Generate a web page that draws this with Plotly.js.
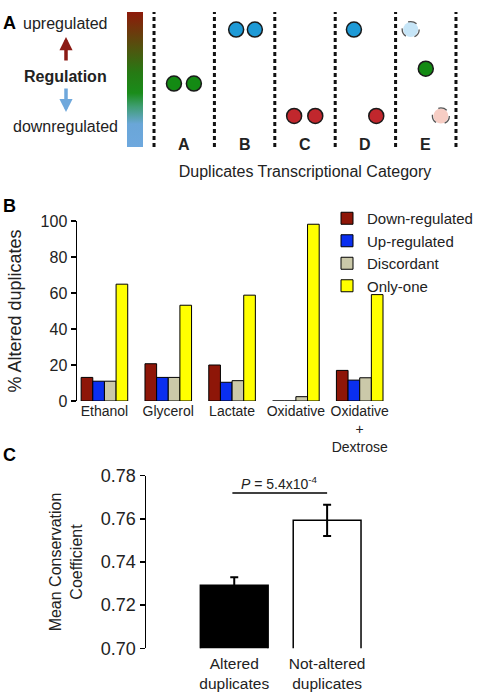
<!DOCTYPE html>
<html>
<head>
<meta charset="utf-8">
<script src="https://cdn.plot.ly/plotly-3.0.1.min.js"></script>
<style>html,body{margin:0;padding:0;background:#fff}#chart{width:478px;height:692px}</style>
</head>
<body>
<div id="chart"></div>
<script>
// ---------- Panel A data (schematic) ----------
const categories = ['A', 'B', 'C', 'D', 'E'];
const dupCategory = ['A', 'A', 'B', 'B', 'C', 'C', 'D', 'D', 'E', 'E', 'E'];
const dupSlot = [0.33, 0.66, 0.36, 0.67, 0.32, 0.67, 0.31, 0.68, 0.25, 0.50, 0.75];
const regulationLevel = [0.47, 0.47, 0.87, 0.87, 0.23, 0.23, 0.87, 0.23, 0.87, 0.58, 0.23];
const dupState = ['neutral', 'neutral', 'up', 'up', 'down', 'down', 'up', 'down', 'upFaded', 'neutral', 'downFaded'];

// ---------- Panel B data ----------
const conditions = ['Ethanol', 'Glycerol', 'Lactate', 'Oxidative', 'Oxidative<br>+<br>Dextrose'];
const seriesNames = ['Down-regulated', 'Up-regulated', 'Discordant', 'Only-one'];
const downRegulated = [13.1, 20.7, 20.0, 0, 17.0];
const upRegulated = [11.0, 13.1, 10.4, 0, 11.6];
const discordant = [11.0, 13.1, 11.3, 2.4, 12.9];
const onlyOne = [64.9, 53.2, 58.8, 98.2, 59.1];

// ---------- Panel C data ----------
const groups = ['Altered<br>duplicates', 'Not-altered<br>duplicates'];
const meanConservation = [0.7292, 0.7593];
const conservationErr = [0.0037, 0.0072];
const yTicksC = [0.70, 0.72, 0.74, 0.76, 0.78];
const pValueLabel = '<i>P</i> = 5.4x10<sup>-4</sup>';

// ---------- styles ----------
const W = 478, H = 692;
const px = v => v / W;
const py = v => 1 - v / H;
const FONT = 'Liberation Sans, Arial, sans-serif';
const stateColor = {neutral: '#138a13', up: '#1e9ad6', down: '#c1272d', upFaded: '#c6e5f7', downFaded: '#f6cdc4'};
const stateLine = {neutral: '#1a1a1a', up: '#1a1a1a', down: '#1a1a1a', upFaded: 'rgba(0,0,0,0)', downFaded: 'rgba(0,0,0,0)'};
const seriesColors = ['#8e1608', '#0a2ff0', '#cbc9a9', '#ffff00'];

const catIndex = c => categories.indexOf(c);
const dupX = dupCategory.map((c, i) => catIndex(c) + dupSlot[i]);

const traces = [];

// colour bar (gradient)
traces.push({
  type: 'scatter', x: [null], y: [null], xaxis: 'x', yaxis: 'y', showlegend: false, hoverinfo: 'skip',
  marker: {
    color: [0], cmin: 0, cmax: 1, showscale: true,
    colorscale: [[0, '#6ea8de'], [0.17, '#6aa6d8'], [0.3, '#3f9e72'], [0.4, '#1a8c1a'], [0.55, '#267a14'], [0.75, '#55500e'], [1, '#8e1a0a']],
    colorbar: {x: px(127), xanchor: 'left', xpad: 0, thickness: 16, thicknessmode: 'pixels',
      y: py(79.5), yanchor: 'middle', len: 135, lenmode: 'pixels', ypad: 0,
      outlinewidth: 0, ticks: '', showticklabels: false}
  }
});

// duplicates schematic
traces.push({
  type: 'scatter', mode: 'markers', x: dupX, y: regulationLevel, xaxis: 'x', yaxis: 'y',
  showlegend: false, hoverinfo: 'skip',
  marker: {size: 15, color: dupState.map(s => stateColor[s]),
    line: {width: 1.5, color: dupState.map(s => stateLine[s])}}
});

// Panel B bars
const seriesValues = [downRegulated, upRegulated, discordant, onlyOne];
seriesNames.forEach((n, i) => {
  traces.push({
    type: 'bar', name: n, x: conditions, y: seriesValues[i], xaxis: 'x2', yaxis: 'y2',
    marker: {color: seriesColors[i], line: {color: '#000', width: 1}}, hoverinfo: 'skip'
  });
});

// Panel C bars
traces.push({
  type: 'bar', x: groups, y: meanConservation, xaxis: 'x3', yaxis: 'y3', showlegend: false,
  marker: {color: ['#000000', '#ffffff'], line: {color: '#000', width: 1.5}},
  error_y: {type: 'data', array: conservationErr, visible: true, color: '#000', thickness: 2, width: 4},
  hoverinfo: 'skip'
});

// shapes: dotted separators, dashed outlines of faded circles, significance bar
const shapes = [];
for (let k = 0; k <= categories.length; k++) {
  shapes.push({type: 'line', xref: 'x', yref: 'y', x0: k, x1: k, y0: 0, y1: 1,
    line: {color: '#111', width: 3, dash: '4px,3px'}});
}
dupState.forEach((s, i) => {
  if (s === 'upFaded' || s === 'downFaded') {
    shapes.push({type: 'circle', xref: 'x', yref: 'y', xsizemode: 'pixel', ysizemode: 'pixel',
      xanchor: dupX[i], yanchor: regulationLevel[i], x0: -8.5, x1: 8.5, y0: -8, y1: 8,
      line: {color: '#555', width: 1.3, dash: 'dash'}});
  }
});
shapes.push({type: 'line', xref: 'x3', yref: 'y3', x0: -0.02, x1: 1.0, y0: 0.772, y1: 0.772,
  line: {color: '#000', width: 1.5}});

const txt = (text, x, y, size, extra) => Object.assign({text: text, x: px(x), y: py(y), xref: 'paper', yref: 'paper',
  xanchor: 'center', yanchor: 'middle', showarrow: false, font: {size: size, color: '#222', family: FONT}}, extra || {});

const annotations = [
  txt('<b>A</b>', 9.5, 23, 18, {font: {size: 18, color: '#000', family: FONT}}),
  txt('<b>B</b>', 9.5, 206, 18, {font: {size: 18, color: '#000', family: FONT}}),
  txt('<b>C</b>', 9.5, 455, 18, {font: {size: 18, color: '#000', family: FONT}}),
  txt('upregulated', 65.5, 23, 16),
  txt('<b>Regulation</b>', 65.5, 76, 16),
  txt('downregulated', 65.5, 127, 16),
  {text: '', x: px(66), y: py(37), xref: 'paper', yref: 'paper', ax: 0, ay: 25, showarrow: true,
    arrowhead: 2, arrowsize: 0.75, arrowwidth: 3.5, arrowcolor: '#8b1a14', standoff: 0},
  {text: '', x: px(66), y: py(112), xref: 'paper', yref: 'paper', ax: 0, ay: -25, showarrow: true,
    arrowhead: 2, arrowsize: 0.75, arrowwidth: 3.5, arrowcolor: '#6fa8dc', standoff: 0},
  {text: pValueLabel, x: 0.49, y: 0.7766, xref: 'x3', yref: 'y3', xanchor: 'center', yanchor: 'middle',
    showarrow: false, font: {size: 14, color: '#222', family: FONT}}
];
categories.forEach((c, k) => {
  annotations.push({text: '<b>' + c + '</b>', x: k + 0.5, y: 0.015, xref: 'x', yref: 'y', showarrow: false,
    xanchor: 'center', yanchor: 'middle', font: {size: 16, color: '#222', family: FONT}});
});

const layout = {
  width: W, height: H, margin: {l: 0, r: 0, t: 0, b: 0}, paper_bgcolor: '#fff', plot_bgcolor: 'rgba(0,0,0,0)',
  font: {family: FONT, color: '#222'},
  barmode: 'group', bargap: 0.27, bargroupgap: 0,
  showlegend: true,
  legend: {x: px(327), y: py(202), xanchor: 'left', yanchor: 'top', font: {size: 15, color: '#222', family: FONT},
    bgcolor: 'rgba(0,0,0,0)', borderwidth: 0, itemwidth: 30, tracegroupgap: 0},
  xaxis: {domain: [px(151), px(459)], range: [-0.05, 5.05], showgrid: false, zeroline: false, showline: false,
    showticklabels: false, ticks: '', fixedrange: true,
    title: {text: 'Duplicates Transcriptional Category', font: {size: 16, color: '#222', family: FONT}, standoff: 18}},
  yaxis: {domain: [py(147), py(12)], range: [0, 1], visible: false, fixedrange: true},
  xaxis2: {domain: [px(77), px(398)], range: [-0.43, 4.6], type: 'category', showgrid: false, zeroline: false, showline: false,
    ticks: '', tickfont: {size: 14, color: '#222', family: FONT}, anchor: 'y2'},
  yaxis2: {domain: [py(401), py(221)], range: [0, 100], tickvals: [0, 20, 40, 60, 80, 100], showgrid: false, zeroline: false,
    showline: true, linecolor: '#000', linewidth: 1.5, ticks: 'outside', ticklen: 5, tickwidth: 1.5, tickcolor: '#000',
    tickfont: {size: 16, color: '#222', family: FONT}, anchor: 'x2',
    title: {text: '% Altered duplicates', font: {size: 18, color: '#222', family: FONT}, standoff: 14}},
  xaxis3: {domain: [px(146), px(420)], range: [-0.95, 2.0], type: 'category', showgrid: false, zeroline: false, showline: false,
    ticks: '', tickfont: {size: 15.5, color: '#222', family: FONT}, anchor: 'y3', ticklabelstandoff: 4},
  yaxis3: {domain: [py(648.3), py(475.7)], range: [0.70, 0.78], tickvals: yTicksC, tickformat: '.2f', showgrid: false, zeroline: false,
    showline: true, linecolor: '#000', linewidth: 1.5, ticks: 'outside', ticklen: 5, tickwidth: 1.5, tickcolor: '#000',
    tickfont: {size: 18, color: '#222', family: FONT}, anchor: 'x3',
    title: {text: 'Mean Conservation<br>Coefficient', font: {size: 16, color: '#222', family: FONT}, standoff: 14}},
  shapes: shapes,
  annotations: annotations
};

Plotly.newPlot('chart', traces, layout, {staticPlot: true, displayModeBar: false});
</script>
</body>
</html>
